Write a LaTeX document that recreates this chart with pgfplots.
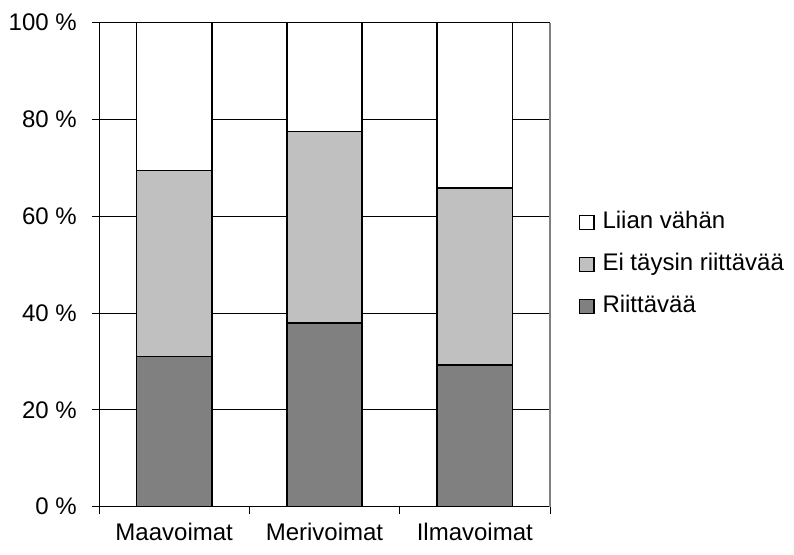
\documentclass[border=0pt]{standalone}
\usepackage{pgfplots}
\pgfplotsset{compat=1.18}
\usepackage{fontspec}
\setmainfont{Liberation Sans}
\definecolor{dk}{HTML}{808080}
\definecolor{lt}{HTML}{C0C0C0}
\begin{document}
\fontsize{24bp}{28bp}\selectfont
\begin{tikzpicture}
\path[use as bounding box] (-99bp,-48.3bp) rectangle (695bp,506.7bp);
\begin{axis}[
  scale only axis, width=451bp, height=484bp,
  ybar stacked, bar width=0.5,
  xmin=-0.5, xmax=2.5, ymin=0, ymax=100,
  enlargelimits=false,
  axis x line*=bottom, axis y line*=left,
  axis line style={black, line width=0.9bp},
  tick align=outside,
  major tick length=7bp,
  xtick={-0.5,0.5,1.5,2.5}, xticklabels={},
  extra x ticks={0,1,2},
  extra x tick labels={Maavoimat,Merivoimat,Ilmavoimat},
  extra x tick style={major tick length=0pt, tick style={draw=none}, xticklabel style={yshift=-8bp}},
  x tick style={black, line width=0.9bp},
  ytick={0,20,40,60,80,100},
  yticklabels={0 \%,20 \%,40 \%,60 \%,80 \%,100 \%},
  y tick style={black, line width=0.9bp},
  ymajorgrids, xmajorgrids=false,
  major grid style={black, line width=0.9bp},
  yticklabel style={xshift=-7bp},
  legend cell align=left,
  reverse legend,
  legend style={draw=none, fill=none, at={(1,0.5)}, anchor=west, xshift=29bp,
    inner sep=0pt, row sep=16bp, column sep=0bp,
    /tikz/every odd column/.append style={column sep=6bp},
    nodes={text height=17bp, text depth=5bp, inner sep=2bp}},
  legend image code/.code={\draw[#1, draw=black, line width=1.3bp] (0bp,-7bp) rectangle (14bp,7bp);},
  after end axis/.code={\draw[dk, line width=1.2bp] (rel axis cs:1,0) -- (rel axis cs:1,1);},
]
\addplot[fill=dk, draw=black, line width=1.6bp] coordinates {(0,31) (1,38) (2,29.3)};
\addplot[fill=lt, draw=black, line width=1.6bp] coordinates {(0,38.5) (1,39.5) (2,36.6)};
\addplot[fill=white, draw=black, line width=1.6bp] coordinates {(0,30.5) (1,22.5) (2,34.1)};
\legend{Riittävää, Ei täysin riittävää, Liian vähän}
\end{axis}
\end{tikzpicture}
\end{document}
